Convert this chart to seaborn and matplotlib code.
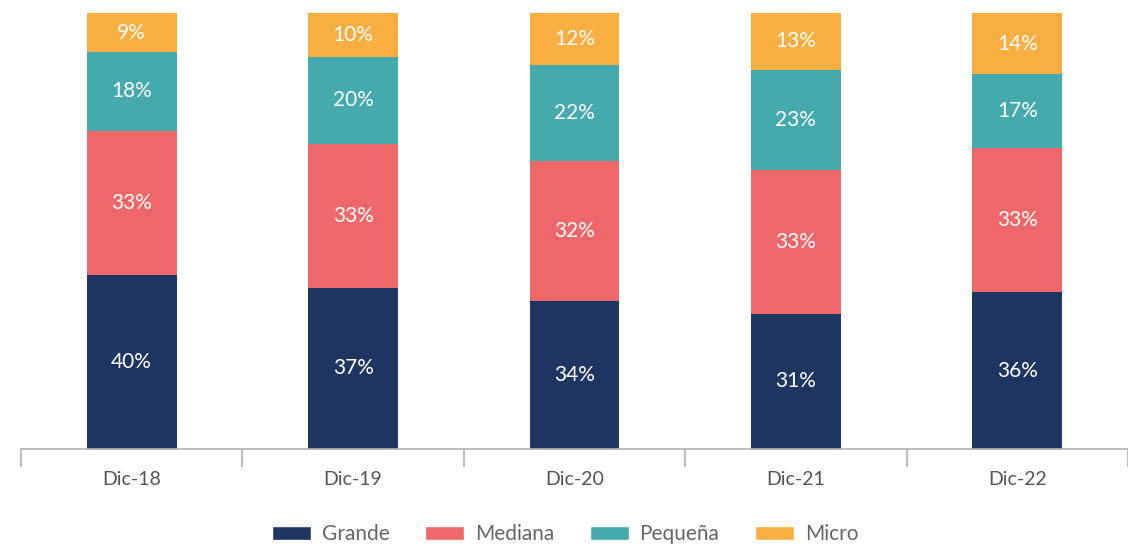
import matplotlib
matplotlib.use("Agg")
import matplotlib.pyplot as plt
from matplotlib.patches import Patch
import seaborn as sns
import pandas as pd
import numpy as np

# data (percent)
periods = ["Dic-18", "Dic-19", "Dic-20", "Dic-21", "Dic-22"]
grande = [40, 37, 34, 31, 36]
mediana = [33, 33, 32, 33, 33]
pequena = [18, 20, 22, 23, 17]
micro = [9, 10, 12, 13, 14]

segments = ["Grande", "Mediana", "Pequeña", "Micro"]
colors = ["#1e3562", "#ee6769", "#45aaae", "#f9ae42"]

sns.set_style("white")
plt.rcParams["font.family"] = ["Lato", "DejaVu Sans"]

df = pd.DataFrame({"periodo": periods, "Grande": grande, "Mediana": mediana,
                   "Pequeña": pequena, "Micro": micro})
cum = df[segments].cumsum(axis=1)

fig = plt.figure(figsize=(11.28, 5.47), dpi=100)
ax = fig.add_axes([21 / 1128, 1 - 449 / 547, 1 - 21 / 1128, (449 - 13) / 547])

# draw cumulative totals from the top layer down so each layer shows its share
for seg, col in reversed(list(zip(segments, colors))):
    sns.barplot(x=df["periodo"], y=cum[seg], color=col, width=0.405,
                saturation=1, ax=ax, linewidth=0)

# labels in the middle of each segment
for i in range(len(periods)):
    base = 0
    for seg in segments:
        v = df.loc[i, seg]
        ax.text(i, base + v / 2, f"{v}%", ha="center", va="center",
                color="white", fontsize=15, fontweight="normal", zorder=10)
        base += v

ax.set_ylim(0, 100)
ax.set_xlim(-0.5, (1128 - 132) / 222.2)
ax.set_xlabel("")
ax.set_ylabel("")
ax.set_yticks([])
for s in ["top", "right", "left"]:
    ax.spines[s].set_visible(False)
ax.spines["bottom"].set_color("#b0b0b0")
ax.spines["bottom"].set_linewidth(1.2)

ax.set_xticks(range(len(periods)))
ax.set_xticklabels(periods, fontsize=14, color="#555555")
ax.tick_params(axis="x", which="major", bottom=True, length=0, pad=16)
ax.set_xticks(np.arange(-0.5, len(periods), 1), minor=True)
ax.tick_params(axis="x", which="minor", bottom=True, length=13,
               color="#b0b0b0", width=1.2)

handles = [Patch(facecolor=c, label=s) for s, c in zip(segments, colors)]
fig.legend(handles=handles, loc="center", bbox_to_anchor=(565 / 1128, 1 - 534 / 547),
           ncol=4, frameon=False, fontsize=15, labelcolor="#666666",
           handlelength=1.9, handleheight=0.65, columnspacing=1.7, handletextpad=0.5)

fig.savefig("out.png", dpi=100)
